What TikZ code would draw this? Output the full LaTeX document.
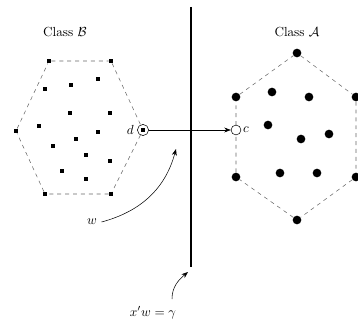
\documentclass[tikz,border=0pt]{standalone}
\usepackage{amsmath}
\usepackage{tikz}
\usetikzlibrary{arrows.meta}

\tikzset{
  sq/.style={fill=black, inner sep=0pt, minimum size=3.3pt},
  blob/.style={circle, fill=black, inner sep=0pt, minimum size=6.6pt},
  hull/.style={dashed, black!60, thin},
}

\begin{document}
\begin{tikzpicture}[x=0.0267cm, y=-0.0267cm]
  \useasboundingbox (0,0) rectangle (358,325);
  % class B
  \node (lb) at (65,32) {Class $\mathcal{B}$};
  \node[sq] (b1) at (49,61) {};
  \node[sq] (b2) at (111,61) {};
  \coordinate (b3) at (143,130);
  \node[sq] (b4) at (111,194) {};
  \node[sq] (b5) at (45,194) {};
  \node[sq] (b6) at (16,131) {};
  \draw[hull] (b1) -- (b2) -- (b3) -- (b4) -- (b5) -- (b6) -- (b1);
  \foreach \x/\y in {45/89, 71/85, 98/79, 70/113, 110/113, 39/126, 98/132,
                     76/139, 53/146, 86/155, 110/161, 62/171, 86/179}
    \node[sq] at (\x,\y) {};
  \node[circle, draw, fill=white, inner sep=0pt, minimum size=8.5pt] (d) at (b3) {};
  \node[sq] at (d) {};
  \node[left=-1pt] at (d.west) {$d$};
  % class A
  \node (la) at (297,32) {Class $\mathcal{A}$};
  \node[blob] (a1) at (297,53) {};
  \node[blob] (a2) at (356,97) {};
  \node[blob] (a3) at (356,177) {};
  \node[blob] (a4) at (297,220) {};
  \node[blob] (a5) at (236,177) {};
  \node[blob] (a6) at (236,97) {};
  \coordinate (a56) at (236,130);
  \draw[hull] (a1) -- (a2) -- (a3) -- (a4) -- (a5) -- (a56) -- (a6) -- (a1);
  \foreach \x/\y in {272/92, 309/97, 268/125, 301/139, 329/134, 280/173, 317/173}
    \node[blob] at (\x,\y) {};
  \node[circle, draw, fill=white, inner sep=0pt, minimum size=7.5pt] (c) at (a56) {};
  \node[right=-2pt] at (c.east) {$c$};
  % hyperplane
  \coordinate (ht) at (191,7);
  \coordinate (hb) at (191,267);
  \draw[line width=1.1pt] (ht) -- (hb);
  \draw[-{Stealth[length=5pt]}] (d) -- (c);
  % labels
  \node (w) at (92,222) {$w$};
  \coordinate (wt) at (176,149);
  \draw[-{Stealth[length=5pt]}] (w.east) to[out=15, in=-105] (wt);
  \node (g) at (153,313) {$x'w=\gamma$};
  \coordinate (gs) at (172,299);
  \coordinate (gt) at (188,272);
  \draw[-{Stealth[length=5pt]}] (gs) to[out=90, in=-140] (gt);
\end{tikzpicture}
\end{document}
